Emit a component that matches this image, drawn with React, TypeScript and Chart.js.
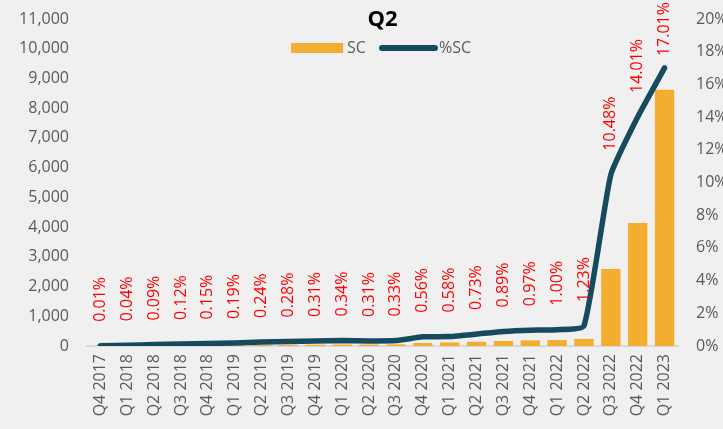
import React, { useEffect, useRef } from "react";
import { Chart, registerables } from "chart.js";
Chart.register(...registerables);

const categories = [
  "Q4 2017", "Q1 2018", "Q2 2018", "Q3 2018", "Q4 2018", "Q1 2019", "Q2 2019", "Q3 2019",
  "Q4 2019", "Q1 2020", "Q2 2020", "Q3 2020", "Q4 2020", "Q1 2021", "Q2 2021", "Q3 2021",
  "Q4 2021", "Q1 2022", "Q2 2022", "Q3 2022", "Q4 2022", "Q1 2023",
];
const scValues = [
  1, 5, 10, 15, 20, 25, 35, 40, 45, 50, 50, 55, 100, 120, 140, 170, 190, 200, 240, 2590, 4140, 8620,
];
const pctValues = [
  0.01, 0.04, 0.09, 0.12, 0.15, 0.19, 0.24, 0.28, 0.31, 0.34, 0.31, 0.33, 0.56, 0.58, 0.73, 0.89,
  0.97, 1.0, 1.23, 10.48, 14.01, 17.01,
];
const pctLabels = pctValues.map((v) => v.toFixed(2) + "%");
const leftMax = 11000;
const leftStep = 1000;
const rightMax = 20;
const rightStep = 2;

const ORANGE = "#f4ae2f";
const TEAL = "#164a5e";
const TEXT = "#595959";
const BG = "#f0f0f0";
const FONT = "'Open Sans', 'Noto Sans', sans-serif";

export default function App() {
  const ref = useRef<HTMLCanvasElement>(null);
  useEffect(() => {
    document.body.style.margin = "0";
    document.body.style.background = BG;
    const canvas = ref.current!;

    const bgPlugin = {
      id: "bg",
      beforeDraw(chart: any) {
        const c = chart.ctx;
        c.save();
        c.fillStyle = BG;
        c.fillRect(0, 0, chart.width, chart.height);
        c.restore();
      },
    };

    const labelPlugin = {
      id: "pctLabels",
      afterDatasetsDraw(chart: any) {
        const c = chart.ctx;
        const meta = chart.getDatasetMeta(0);
        c.save();
        c.font = `16px ${FONT}`;
        c.fillStyle = "#ff0000";
        c.textAlign = "left";
        c.textBaseline = "middle";
        meta.data.forEach((pt: any, i: number) => {
          const text = pctLabels[i];
          const w = c.measureText(text).width;
          let start = pt.y - 24;
          if (start - w < 2) start = 2 + w;
          c.save();
          c.translate(pt.x, start);
          c.rotate(-Math.PI / 2);
          c.fillText(text, 0, 0);
          c.restore();
        });
        c.restore();
      },
    };

    const headPlugin = {
      id: "head",
      afterDraw(chart: any) {
        const c = chart.ctx;
        const ca = chart.chartArea;
        const cx = (ca.left + ca.right) / 2;
        c.save();
        c.fillStyle = "#000";
        c.font = `bold 22px ${FONT}`;
        c.textAlign = "center";
        c.textBaseline = "middle";
        c.fillText("Q2", cx, 20);
        // legend
        c.font = `16px ${FONT}`;
        c.textAlign = "left";
        c.fillStyle = ORANGE;
        c.fillRect(291, 43, 52, 10);
        c.fillStyle = TEXT;
        c.fillText(chart.data.datasets[1].label, 347, 48);
        c.strokeStyle = TEAL;
        c.lineWidth = 6;
        c.lineCap = "round";
        c.beginPath();
        c.moveTo(382, 48);
        c.lineTo(435, 48);
        c.stroke();
        c.fillStyle = TEXT;
        c.fillText(chart.data.datasets[0].label, 439, 48);
        c.restore();
      },
    };

    const chart = new Chart(canvas, {
      type: "bar",
      data: {
        labels: categories,
        datasets: [
          {
            type: "line",
            label: "%SC",
            data: pctValues,
            yAxisID: "y1",
            borderColor: TEAL,
            backgroundColor: TEAL,
            borderWidth: 5.5,
            pointRadius: 0,
            tension: 0.15,
            borderCapStyle: "round",
            borderJoinStyle: "round",
            order: 0,
          } as any,
          {
            type: "bar",
            label: "SC",
            data: scValues,
            yAxisID: "y",
            backgroundColor: ORANGE,
            barPercentage: 0.72,
            categoryPercentage: 1,
            order: 1,
          } as any,
        ],
      },
      options: {
        responsive: false,
        animation: false,
        layout: { padding: { top: 19, left: 0, right: 0, bottom: 0 } },
        plugins: {
          legend: { display: false },
          title: { display: false },
          tooltip: { enabled: false },
        },
        scales: {
          x: {
            grid: { display: false, drawTicks: false },
            border: { color: "#d9d9d9", width: 2 },
            ticks: {
              maxRotation: 90,
              minRotation: 90,
              padding: 8,
              color: TEXT,
              font: { family: FONT, size: 16 },
              autoSkip: false,
            },
            afterFit: (s: any) => {
              s.height = 83;
            },
          },
          y: {
            position: "left",
            min: 0,
            max: leftMax,
            ticks: {
              stepSize: leftStep,
              padding: 0,
              color: TEXT,
              font: { family: FONT, size: 16 },
              callback: (v: any) => Number(v).toLocaleString("en-US"),
            },
            grid: { display: false, drawTicks: true, tickLength: 18 },
            border: { display: false },
            afterFit: (s: any) => {
              s.width = 87;
            },
          },
          y1: {
            position: "right",
            min: 0,
            max: rightMax,
            ticks: {
              stepSize: rightStep,
              padding: 0,
              color: TEXT,
              font: { family: FONT, size: 16 },
              callback: (v: any) => v + "%",
            },
            grid: { display: false, drawTicks: true, tickLength: 18 },
            border: { display: false },
            afterFit: (s: any) => {
              s.width = 45;
            },
          },
        },
      } as any,
      plugins: [bgPlugin, labelPlugin, headPlugin],
    });
    return () => chart.destroy();
  }, []);
  return <canvas ref={ref} width={723} height={429} style={{ display: "block" }} />;
}
